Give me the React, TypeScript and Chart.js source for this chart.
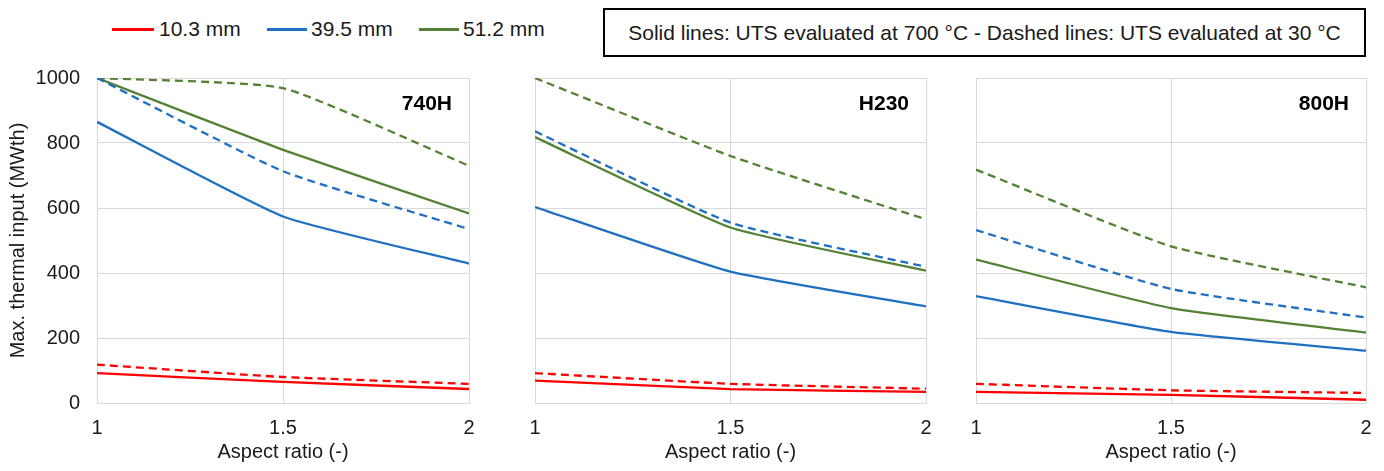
import React, { useEffect, useRef } from "react";
import { Chart, registerables } from "chart.js";

Chart.register(...registerables);

// ---------- data ----------
const aspectRatio = [1, 1.5, 2];
const xTicks = [1, 1.5, 2];
const yTicks = [0, 200, 400, 600, 800, 1000];

const seriesLabels = ["10.3 mm", "39.5 mm", "51.2 mm"];
const panelNames = ["740H", "H230", "800H"];

// 740H
const a740_103_700 = [92, 65, 43];
const a740_103_30 = [118, 80, 59];
const a740_395_700 = [865, 574, 429];
const a740_395_30 = [1000, 713, 535];
const a740_512_700 = [1000, 779, 583];
const a740_512_30 = [1000, 969, 730];

// H230
const h230_103_700 = [69, 43, 34];
const h230_103_30 = [92, 59, 44];
const h230_395_700 = [603, 404, 297];
const h230_395_30 = [836, 555, 419];
const h230_512_700 = [818, 540, 407];
const h230_512_30 = [1000, 760, 565];

// 800H
const a800_103_700 = [34, 25, 10];
const a800_103_30 = [59, 39, 31];
const a800_395_700 = [329, 219, 161];
const a800_395_30 = [532, 351, 263];
const a800_512_700 = [441, 292, 217];
const a800_512_30 = [718, 482, 356];

const noteText = "Solid lines: UTS evaluated at 700 °C - Dashed lines: UTS evaluated at 30 °C";
const yTitle = "Max. thermal input (MWth)";
const xTitle = "Aspect ratio (-)";

// ---------- styles ----------
const COLORS = ["#FF0000", "#1F70C1", "#548235"];
const FONT = "'Liberation Sans', Arial, Helvetica, sans-serif";
const GRID = "#D9D9D9";
const TEXT = "#1a1a1a";

const panelData = [
  [
    [a740_103_700, a740_103_30],
    [a740_395_700, a740_395_30],
    [a740_512_700, a740_512_30],
  ],
  [
    [h230_103_700, h230_103_30],
    [h230_395_700, h230_395_30],
    [h230_512_700, h230_512_30],
  ],
  [
    [a800_103_700, a800_103_30],
    [a800_395_700, a800_395_30],
    [a800_512_700, a800_512_30],
  ],
];

// layout of each panel canvas (page coords)
const panels = [
  { left: 0, width: 490, axisW: 97, padRight: 21, padTop: 18, showY: true },
  { left: 490, width: 450, axisW: 45, padRight: 14, padTop: 18, showY: false },
  { left: 940, width: 444, axisW: 36, padRight: 18, padTop: 18, showY: false },
];
const CANVAS_TOP = 60;
const CANVAS_H = 411;
const X_AXIS_H = 68;

const panelLabel = {
  id: "panelLabel",
  afterDatasetsDraw(chart: any, _args: any, opts: any) {
    const { ctx, chartArea } = chart;
    ctx.save();
    ctx.font = `bold 21px ${FONT}`;
    ctx.fillStyle = "#000";
    ctx.textAlign = "right";
    ctx.textBaseline = "middle";
    ctx.fillText(opts.text, chartArea.right - 17, chartArea.top + 26);
    ctx.restore();
  },
};

function Panel({ idx }: { idx: number }) {
  const ref = useRef<HTMLCanvasElement | null>(null);
  const p = panels[idx];
  useEffect(() => {
    if (!ref.current) return;
    const datasets: any[] = [];
    panelData[idx].forEach((pair, si) => {
      datasets.push({
        label: seriesLabels[si] + " (30 °C)",
        data: aspectRatio.map((x, i) => ({ x, y: pair[1][i] })),
        borderColor: COLORS[si],
        borderWidth: 2.3,
        borderDash: [8, 5],
        pointRadius: 0,
        tension: 0.15,
        fill: false,
      });
    });
    panelData[idx].forEach((pair, si) => {
      datasets.push({
        label: seriesLabels[si] + " (700 °C)",
        data: aspectRatio.map((x, i) => ({ x, y: pair[0][i] })),
        borderColor: COLORS[si],
        borderWidth: 2.3,
        pointRadius: 0,
        tension: 0.15,
        fill: false,
      });
    });
    const chart = new Chart(ref.current, {
      type: "line",
      data: { datasets },
      plugins: [panelLabel],
      options: {
        animation: false,
        responsive: false,
        devicePixelRatio: 1,
        layout: { padding: { top: p.padTop, right: p.padRight, left: 0, bottom: 0 } },
        plugins: {
          legend: { display: false },
          tooltip: { enabled: false },
          panelLabel: { text: panelNames[idx] },
        } as any,
        scales: {
          x: {
            type: "linear",
            min: 1,
            max: 2,
            afterBuildTicks: (s: any) => {
              s.ticks = xTicks.map((v) => ({ value: v }));
            },
            afterFit: (s: any) => {
              s.height = X_AXIS_H;
              s.paddingLeft = 0;
              s.paddingRight = 0;
            },
            grid: { color: GRID, lineWidth: 1, drawTicks: false },
            border: { color: GRID, width: 1 },
            ticks: {
              color: TEXT,
              font: { family: FONT, size: 20 },
              padding: 13,
              maxRotation: 0,
              callback: (v: any) => String(v),
            },
            title: {
              display: true,
              text: xTitle,
              color: TEXT,
              font: { family: FONT, size: 20 },
              padding: { top: 0, bottom: 7 },
            },
          },
          y: {
            min: 0,
            max: 1000,
            afterBuildTicks: (s: any) => {
              s.ticks = yTicks.map((v) => ({ value: v }));
            },
            afterFit: (s: any) => {
              s.width = p.axisW;
              s.paddingTop = 0;
              s.paddingBottom = 0;
            },
            grid: { color: GRID, lineWidth: 1, drawTicks: false },
            border: { color: GRID, width: 1 },
            ticks: {
              display: p.showY,
              color: TEXT,
              font: { family: FONT, size: 20 },
              padding: 17,
              callback: (v: any) => String(v),
            },
            title: {
              display: p.showY,
              text: yTitle,
              color: TEXT,
              font: { family: FONT, size: 20 },
              padding: { top: 6, bottom: 0 },
            },
          },
        },
      } as any,
    });
    return () => chart.destroy();
  }, [idx]);
  return (
    <canvas
      ref={ref}
      width={p.width}
      height={CANVAS_H}
      style={{ position: "absolute", left: p.left, top: CANVAS_TOP, width: p.width, height: CANVAS_H }}
    />
  );
}

const legendItems = [
  { lineLeft: 112, lineW: 42, textLeft: 159 },
  { lineLeft: 267, lineW: 40, textLeft: 311 },
  { lineLeft: 419, lineW: 40, textLeft: 463 },
];

export default function App() {
  return (
    <div
      style={{
        position: "absolute",
        left: 0,
        top: 0,
        width: 1384,
        height: 471,
        background: "#fff",
        overflow: "hidden",
        fontFamily: FONT,
      }}
    >
      {legendItems.map((it, i) => (
        <React.Fragment key={i}>
          <div
            style={{
              position: "absolute",
              left: it.lineLeft,
              top: 28,
              width: it.lineW,
              height: 3,
              background: COLORS[i],
            }}
          />
          <span
            style={{
              position: "absolute",
              left: it.textLeft,
              top: 17,
              fontSize: 21,
              lineHeight: "24px",
              color: TEXT,
              whiteSpace: "nowrap",
            }}
          >
            {seriesLabels[i]}
          </span>
        </React.Fragment>
      ))}
      <div
        style={{
          position: "absolute",
          left: 603,
          top: 8,
          width: 763,
          height: 49,
          boxSizing: "border-box",
          border: "2px solid #000",
          display: "flex",
          alignItems: "center",
          justifyContent: "center",
          fontSize: 21,
          color: TEXT,
          whiteSpace: "nowrap",
        }}
      >
        {noteText}
      </div>
      {panels.map((_, i) => (
        <Panel key={i} idx={i} />
      ))}
    </div>
  );
}
